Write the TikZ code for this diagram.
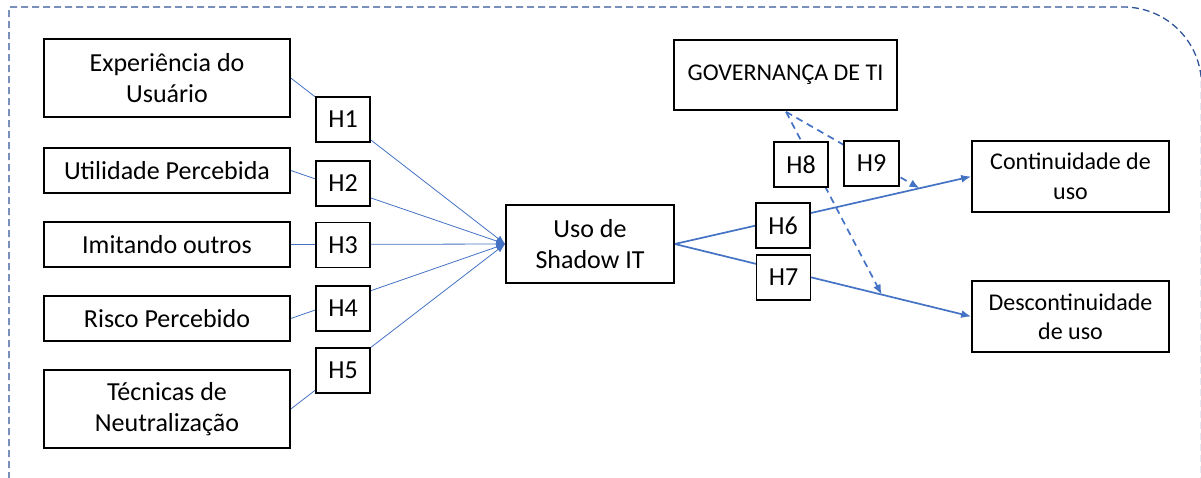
\documentclass[tikz,border=0pt]{standalone}
\usepackage{fontspec}
\setmainfont{Carlito}
\usetikzlibrary{arrows.meta,calc,backgrounds}
\definecolor{linkblue}{HTML}{4472C4}
\definecolor{framblue}{HTML}{2F5597}
\tikzset{
  concept/.style={draw=black, line width=1.6pt, fill=white, inner sep=0pt, align=center,
    font=\fontsize{26}{31}\selectfont},
  hyp/.style={draw=black, line width=1.8pt, fill=white, inner sep=0pt,
    minimum width=54pt, minimum height=45pt, font=\fontsize{26}{31}\selectfont},
  thinlink/.style={draw=linkblue, line width=0.8pt, -{Latex[length=9pt,width=7pt]}},
  thicklink/.style={draw=linkblue, line width=1.7pt, -{Latex[length=10pt,width=8pt]}},
  modlink/.style={draw=linkblue, line width=1.7pt, dash pattern=on 7pt off 5pt,
    -{Latex[length=10pt,width=8pt]}},
  frameline/.style={draw=framblue, line width=1.3pt, dash pattern=on 7pt off 4pt}
}
\begin{document}
\begin{tikzpicture}[x=1pt,y=-1pt]
\useasboundingbox (0,0) rectangle (1201,477);

% outer dashed frame, rounded at the top right
\draw[frameline] (9,490) -- (9,7) -- (1123.5,7)
  .. controls (1166.6,7) and (1201.5,41.9) .. (1201.5,85) -- (1201.5,490);

% antecedent constructs
\node[concept, minimum width=246pt, minimum height=78pt] (exp) at (167,78) {Experiência do\\Usuário};
\node[concept, minimum width=246pt, minimum height=45pt] (util) at (167,170.5) {Utilidade Percebida};
\node[concept, minimum width=246pt, minimum height=45pt] (imit) at (167,244.5) {Imitando outros};
\node[concept, minimum width=246pt, minimum height=45pt] (risco) at (167,318.5) {Risco Percebido};
\node[concept, minimum width=246pt, minimum height=78pt] (tec) at (167,409) {Técnicas de\\Neutralização};

% central construct
\node[concept, minimum width=168pt, minimum height=78pt] (shadow) at (590,244) {Uso de\\Shadow IT};

% moderator and outcomes
\node[concept, minimum width=223pt, minimum height=70pt, font=\fontsize{24}{29}\selectfont] (gov) at (785.5,75) {GOVERNANÇA DE TI};
\node[concept, minimum width=197pt, minimum height=71pt, font=\fontsize{24}{29.5}\selectfont] (cont) at (1070.5,176.5) {Continuidade de\\uso};
\node[concept, minimum width=197pt, minimum height=71pt, font=\fontsize{24}{29.5}\selectfont] (desc) at (1070.5,316.5) {Descontinuidade\\de uso};

% hypothesis labels
\node[hyp] (h1) at (343,119.5) {H1};
\node[hyp] (h2) at (343,183.5) {H2};
\node[hyp] (h3) at (343,245) {H3};
\node[hyp] (h4) at (343,308.5) {H4};
\node[hyp] (h5) at (343,370.5) {H5};
\node[hyp] (h6) at (783,225.5) {H6};
\node[hyp] (h7) at (783.5,277.5) {H7};
\node[hyp] (h8) at (801,164.5) {H8};
\node[hyp, minimum width=55pt] (h9) at (871.5,163.5) {H9};

% moderation targets on the outcome paths
\coordinate (m9) at ($(shadow.east)!0.8255!(cont.west)$);
\coordinate (m8) at ($(shadow.east)!0.698!(desc.west)$);
\coordinate (govfoot) at ($(gov.south)+(0.5,1)$);

\begin{scope}[on background layer]
  \draw[thinlink] (exp.east) -- (shadow.west);
  \draw[thinlink] (util.east) -- (shadow.west);
  \draw[thinlink] (imit.east) -- (shadow.west);
  \draw[thinlink] (risco.east) -- (shadow.west);
  \draw[thinlink] (tec.east) -- (shadow.west);
  \draw[thicklink] (shadow.east) -- (cont.west);
  \draw[thicklink] (shadow.east) -- (desc.west);
  \draw[modlink] (govfoot) -- (m8);
  \draw[modlink] (govfoot) -- (m9);
\end{scope}
\end{tikzpicture}
\end{document}
